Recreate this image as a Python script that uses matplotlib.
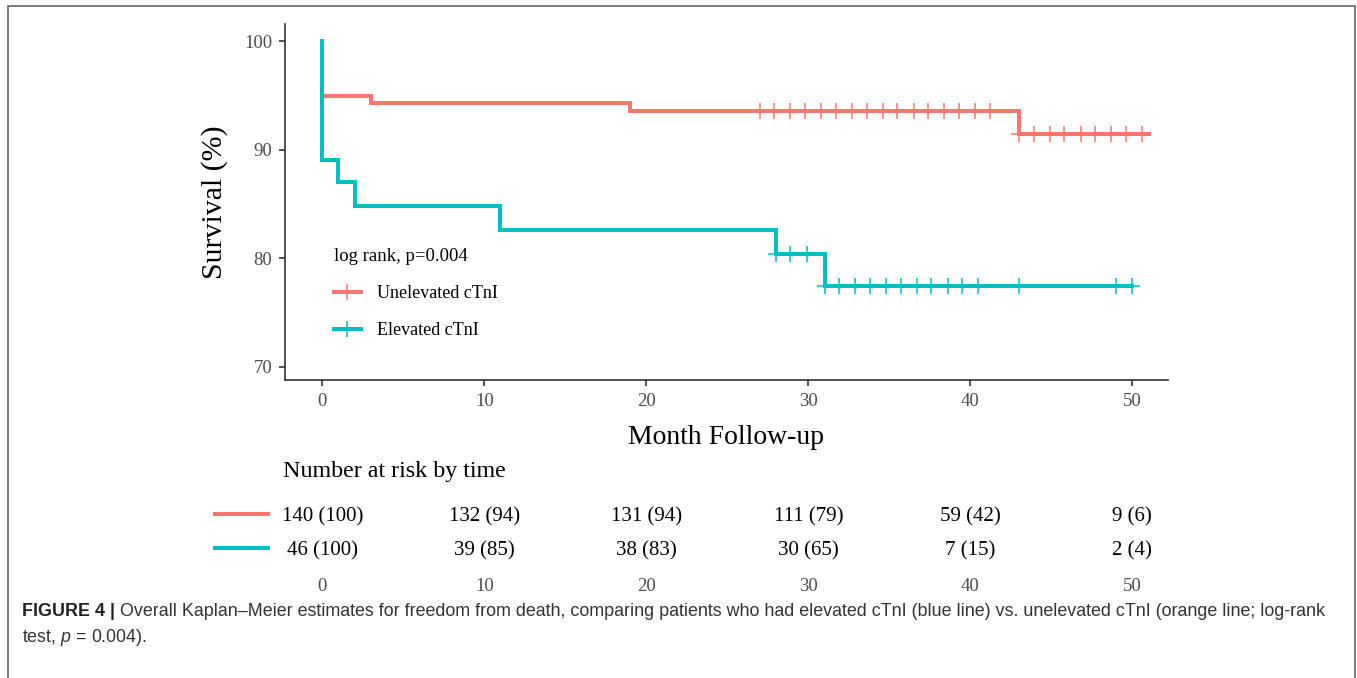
import matplotlib
matplotlib.use('Agg')
import matplotlib.pyplot as plt
from matplotlib.lines import Line2D
from matplotlib.patches import Rectangle
import numpy as np

plt.rcParams['font.family'] = ['Liberation Serif', 'DejaVu Serif']
plt.rcParams['mathtext.fontset'] = 'custom'
plt.rcParams['mathtext.rm'] = 'Liberation Sans'
plt.rcParams['mathtext.it'] = 'Liberation Sans:italic'

RED = '#F8766D'
TEAL = '#00BFC4'

# Kaplan-Meier step data (month, survival %)
unelev_t = [0, 3, 19, 43, 51]
unelev_s = [95.0, 94.3, 93.6, 91.5, 91.5]
unelev_cens_t = [27.0, 27.9, 28.9, 29.8, 30.8, 31.7, 32.7, 33.6, 34.6, 35.5, 36.5, 37.4, 38.4,
                 39.3, 40.3, 41.2, 43.0, 43.9, 44.9, 45.8, 46.8, 47.7, 48.7, 49.6, 50.6]

elev_t = [0, 0, 1, 2, 11, 28, 31, 50]
elev_s = [100.0, 89.1, 87.0, 84.8, 82.6, 80.4, 77.5, 77.5]
elev_cens_t = [28.0, 28.9, 29.9, 31.0, 31.9, 32.9, 33.8, 34.8, 35.7, 36.7, 37.6, 38.6, 39.5,
               40.5, 43.0, 49.0, 50.0]

risk_times = [0, 10, 20, 30, 40, 50]
risk_unelev = ['140 (100)', '132 (94)', '131 (94)', '111 (79)', '59 (42)', '9 (6)']
risk_elev = ['46 (100)', '39 (85)', '38 (83)', '30 (65)', '7 (15)', '2 (4)']

caption_bold = 'FIGURE 4 |'
caption_1 = (' Overall Kaplan\u2013Meier estimates for freedom from death, comparing patients who had '
             'elevated cTnI (blue line) vs. unelevated cTnI (orange line; log-rank')
caption_2 = 'test, $p$ = 0.004).'


def surv_at(ts, ss, x):
    idx = np.searchsorted(ts, x, side='right') - 1
    return np.array(ss)[idx]


fig = plt.figure(figsize=(13.57, 6.78), dpi=100)
W, H = 1357, 678

ax = fig.add_axes([285 / W, 1 - 380 / H, 883 / W, 356 / H])
ax.step(unelev_t, unelev_s, where='post', color=RED, lw=2.9, solid_joinstyle='miter')
ax.step(elev_t, elev_s, where='post', color=TEAL, lw=2.9, solid_joinstyle='miter')
ax.plot(unelev_cens_t, surv_at(unelev_t, unelev_s, unelev_cens_t), ls='none', marker='+',
        ms=11, mew=1.1, color=RED)
ax.plot(elev_cens_t, surv_at(elev_t, elev_s, elev_cens_t), ls='none', marker='+',
        ms=11, mew=1.1, color=TEAL)

ax.set_xlim(-2.3, 52.2)
ax.set_ylim(68.8, 101.6)
ax.set_xticks(risk_times)
ax.set_yticks([70, 80, 90, 100])
for s in ['top', 'right']:
    ax.spines[s].set_visible(False)
for s in ['left', 'bottom']:
    ax.spines[s].set_color('#333333')
    ax.spines[s].set_linewidth(1.2)
ax.tick_params(length=4, width=1.2, color='#333333', labelcolor='#4d4d4d', labelsize=13.5, pad=5)
ax.set_ylabel('Survival (%)', fontsize=21.5, labelpad=12)
ax.set_xlabel('Month Follow-up', fontsize=20, labelpad=11)

handles = [Line2D([], [], color=RED, lw=2.9, marker='+', ms=11, mew=1.1),
           Line2D([], [], color=TEAL, lw=2.9, marker='+', ms=11, mew=1.1)]
leg = ax.legend(handles, ['Unelevated cTnI', 'Elevated cTnI'], title='log rank, p=0.004',
                loc='upper left', bbox_to_anchor=(0.055, 0.37), frameon=False,
                fontsize=13, title_fontsize=13.5, borderpad=0, borderaxespad=0,
                handlelength=1.5, handletextpad=0.9, labelspacing=1.1, numpoints=1)
leg._legend_box.align = 'left'

# number at risk table
rax = fig.add_axes([285 / W, 1 - 570 / H, 883 / W, 75 / H])
rax.set_xlim(ax.get_xlim())
rax.set_ylim(0, 1)
for s in rax.spines.values():
    s.set_visible(False)
rax.set_yticks([])
rax.set_xticks(risk_times)
rax.tick_params(axis='x', length=0, labelcolor='#4d4d4d', labelsize=13.5, pad=6)
for t, a, b in zip(risk_times, risk_unelev, risk_elev):
    rax.text(t, 0.705, a, ha='center', va='center', fontsize=15)
    rax.text(t, 0.25, b, ha='center', va='center', fontsize=15)

fig.text(283 / W, 1 - 471 / H, 'Number at risk by time', fontsize=17.3, va='center')
fig.add_artist(Line2D([215 / W, 268 / W], [1 - 514 / H] * 2, color=RED, lw=2.9))
fig.add_artist(Line2D([215 / W, 268 / W], [1 - 548 / H] * 2, color=TEAL, lw=2.9))

# caption
t1 = fig.text(22 / W, 1 - 611 / H, caption_bold, fontsize=12.9, fontweight='bold',
              family='Liberation Sans', color='#222222', va='center')
ax.annotate(caption_1, xy=(1, 0), xycoords=t1, va='bottom', ha='left', fontsize=12.9,
            family='Liberation Sans', color='#333333', annotation_clip=False)
fig.text(22 / W, 1 - 638 / H, caption_2, fontsize=12.9, family='Liberation Sans',
         color='#333333', va='center')

fig.add_artist(Rectangle((8 / W, -0.05), 1347 / W, 1.05 - 6 / H, fill=False,
                         ec='#666666', lw=1.2, transform=fig.transFigure))

fig.savefig('out.png', dpi=100)
